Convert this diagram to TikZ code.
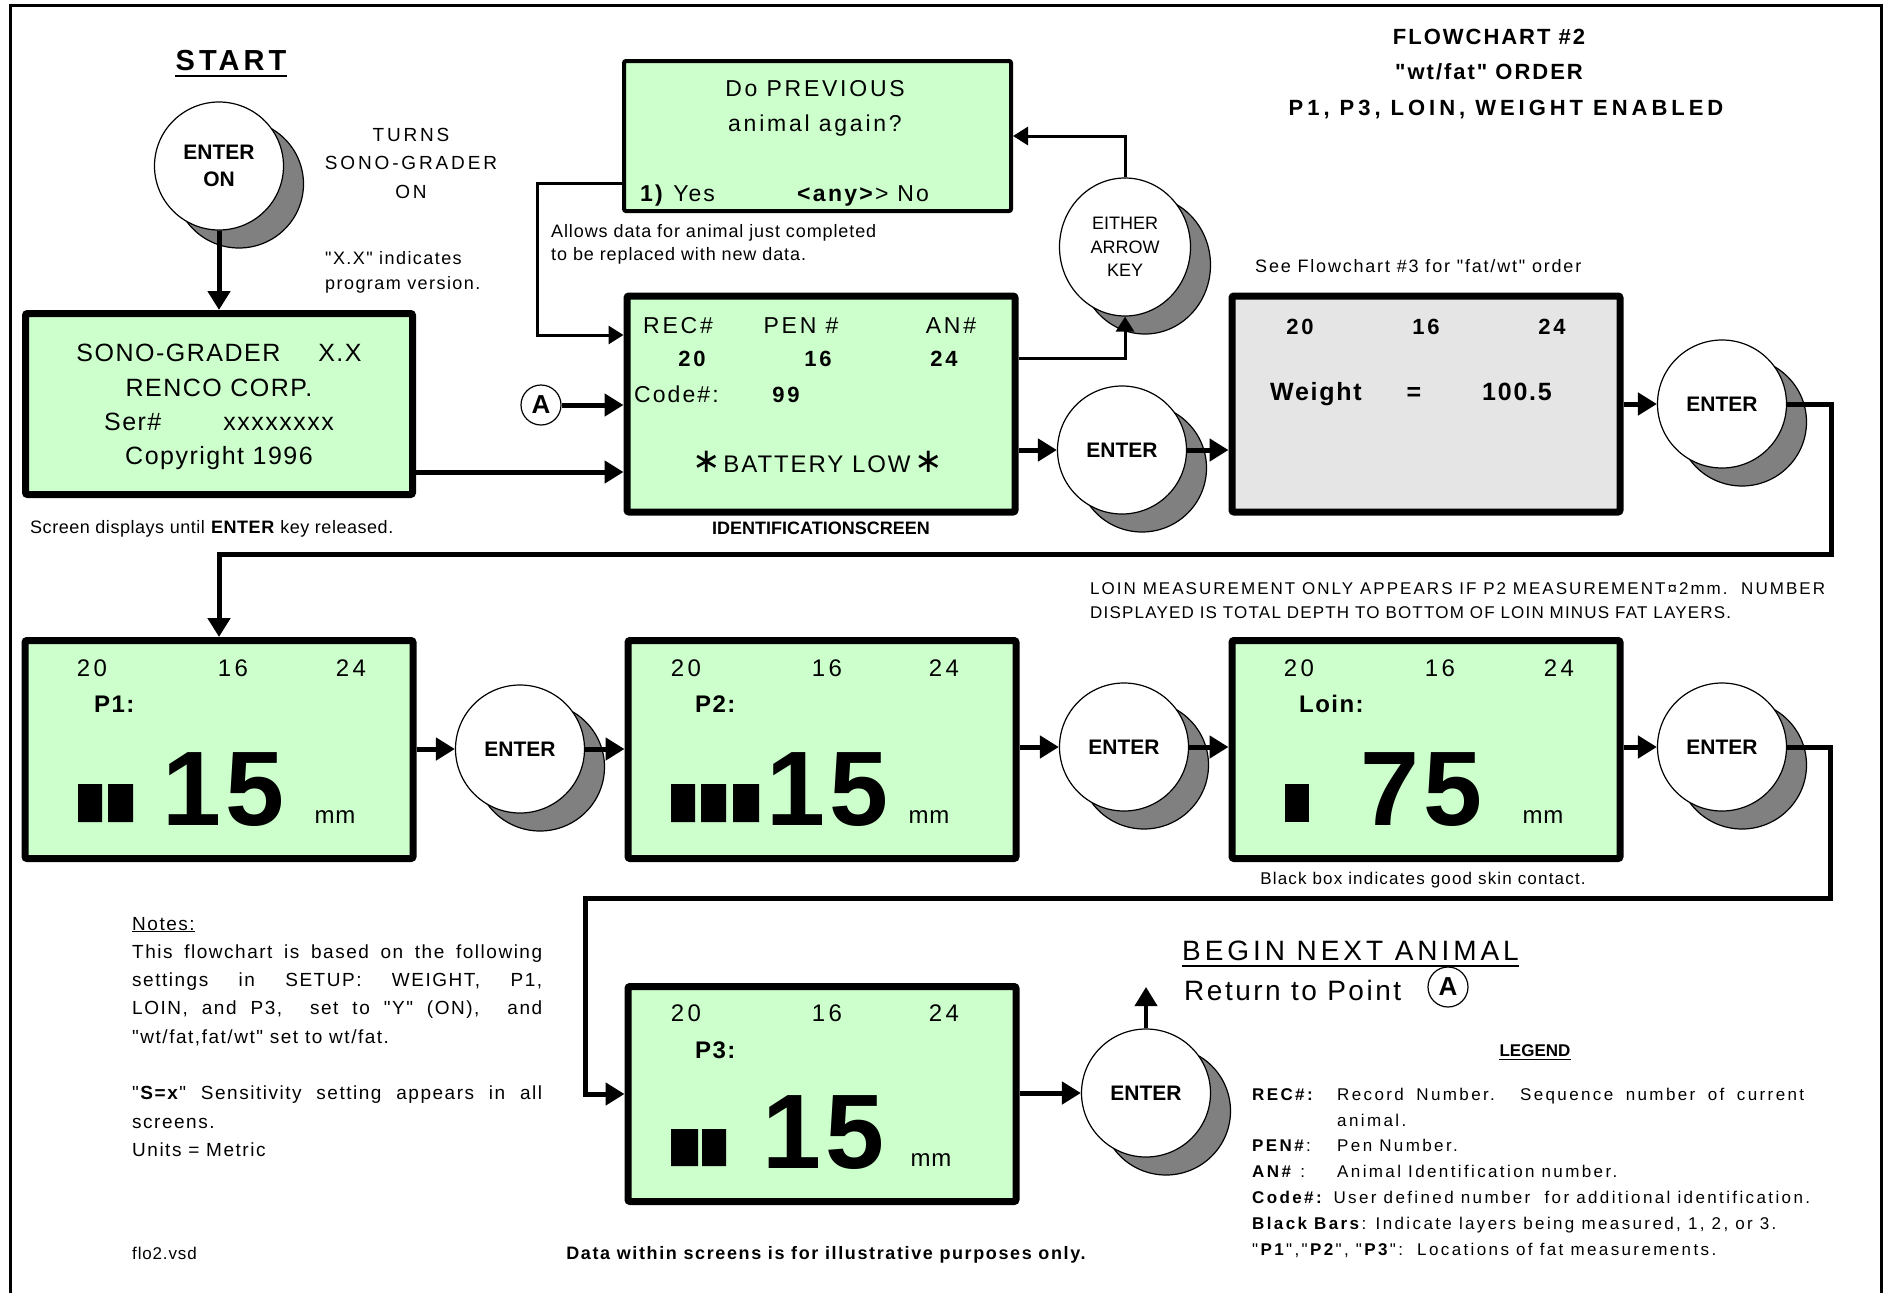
\documentclass[tikz,border=0pt]{standalone}
\usepackage{fontspec}
\setmainfont{Liberation Sans}[Ligatures=TeXOff]
\newfontfamily\symfont{DejaVu Sans}
\usetikzlibrary{positioning,arrows.meta,shapes.geometric}
\definecolor{lcdgreen}{RGB}{204,255,204}
\definecolor{lcdgray}{RGB}{229,229,229}
\definecolor{shadegray}{RGB}{128,128,128}
\newcommand\fsz[3]{\fontsize{#1}{#2}\selectfont\addfontfeature{LetterSpace=#3}}

\begin{document}
\begin{tikzpicture}[x=1pt,y=-1pt,
    screen/.style={draw,line width=7pt,rounded corners=2pt,fill=lcdgreen,
      minimum width=388pt,minimum height=216pt,inner sep=0pt},
    keybtn/.style={ellipse,draw,line width=1.2pt,fill=white,
      minimum width=129pt,minimum height=128pt,inner sep=0pt,align=center,
      font=\bfseries\fsz{21}{27}{0},
      preaction={draw=black,fill=shadegray,line width=1.2pt,
        transform canvas={shift={(20pt,-18pt)}}}},
    pointmark/.style={circle,draw,line width=1.2pt,fill=white,minimum size=40pt,
      inner sep=0pt,font=\bfseries\fsz{26}{30}{0}},
    txt/.style={inner sep=0pt,anchor=base},
    flow/.style={line width=5pt,-{Triangle[length=19pt,width=22pt]}},
    thinflow/.style={line width=3pt,-{Triangle[length=15pt,width=18pt]}}]
  \useasboundingbox (0,0) rectangle (1885,1293);
  \draw[line width=3pt] (10,1293) -- (10,5) -- (1881,5) -- (1881,1293);

  % top left
  \node[txt,font=\bfseries\fsz{29}{34}{14}] (start) at (231,70) {START};
  \draw[line width=1.5pt] ([yshift=-6pt]start.base west) -- ([yshift=-6pt]start.base east);
  \node[keybtn] (enteron) at (219,166) {ENTER\\ON};
  \node[txt,align=center,font=\fsz{19}{28.5}{15}] (turns) at (411,198) {TURNS\\SONO-GRADER\\ON};
  \node[txt,anchor=base west,align=left,font=\fsz{18}{25}{8}] (xxnote) at (325,289)
    {"X.X" indicates\\program version.};
  \node[screen,minimum width=387pt,minimum height=181pt,align=center,font=\fsz{25}{34.3}{6}] (sono) at (219,404)
    {\strut SONO-GRADER\hspace{38pt}X.X\\RENCO CORP.\\Ser\#\hspace{62pt}xxxxxxxx\\Copyright 1996};
  \node[txt,anchor=base west,font=\fsz{18}{22}{3}] (scrnote) at (30,533)
    {Screen displays until \textbf{ENTER} key released.};

  % previous animal
  \node[screen,line width=4pt,minimum width=387pt,minimum height=150pt] (prev) at (817.5,136) {};
  \node[txt,align=center,font=\fsz{23}{35}{12}] (prevq) at (815,131) {Do PREVIOUS\\animal again?};
  \node[txt,anchor=base west,font=\fsz{23}{28}{9}] (yes) at (640,201) {\textbf{1)} Yes};
  \node[txt,anchor=base west,font=\fsz{23}{28}{10}] (no) at (797,201) {\textbf{<any>}> No};
  \node[txt,anchor=base west,align=left,font=\fsz{18}{23}{5}] (allows) at (551,260)
    {Allows data for animal just completed\\to be replaced with new data.};
  \node[keybtn,minimum width=131pt,minimum height=138pt,font=\fsz{18}{23.3}{0}] (either) at (1125,247)
    {EITHER\\ARROW\\KEY};

  % identification screen
  \node[screen] (idscr) at (821,404) {};
  \foreach \lbl/\x [count=\i] in {REC\#/678,PEN \#/801,AN\#/951}
    \node[txt,font=\fsz{23}{28}{12}] (idhd\i) at (\x,333) {\lbl};
  \foreach \val/\x [count=\i] in {20/692,16/818,24/944}
    \node[txt,font=\bfseries\fsz{22}{26}{12}] (idnum\i) at (\x,366) {\val};
  \node[txt,anchor=base west,font=\fsz{23}{28}{9}] (code) at (634,402) {Code\#:};
  \node[txt,font=\bfseries\fsz{22}{26}{12}] (codeval) at (786,402) {99};
  \node[txt,font=\fsz{24}{28}{8}] (battery) at (818,472)
    {{\symfont\fontsize{34}{34}\selectfont ∗}\hspace{2pt}BATTERY LOW\hspace{4pt}{\symfont\fontsize{34}{34}\selectfont ∗}};
  \node[txt,font=\bfseries\fsz{18}{22}{0}] (idlabel) at (821,534) {IDENTIFICATIONSCREEN};
  \node[pointmark] (ptA) at (541,405) {A};

  % title
  \node[txt,align=center,font=\bfseries\fsz{22}{35.5}{9}] (title) at (1506,115)
    {FLOWCHART \#2\rule{34pt}{0pt}\\"wt/fat" ORDER\rule{34pt}{0pt}\\{\addfontfeature{LetterSpace=18}P1, P3, LOIN, WEIGHT ENABLED}};
  \node[txt,anchor=base west,font=\fsz{18}{22}{10}] (seefc) at (1255,272) {See Flowchart \#3 for "fat/wt" order};

  % weight screen
  \node[keybtn] (enter1) at (1122,450) {ENTER};
  \node[screen,fill=lcdgray] (weight) at (1426,404) {};
  \foreach \val/\x [count=\i] in {20/1300,16/1426,24/1552}
    \node[txt,font=\bfseries\fsz{22}{26}{12}] (wtnum\i) at (\x,334) {\val};
  \node[txt,anchor=base west,font=\bfseries\fsz{25}{30}{7}] (wtlbl) at (1270,400) {Weight};
  \node[txt,font=\bfseries\fsz{25}{30}{7}] (wteq) at (1414,400) {=};
  \node[txt,font=\bfseries\fsz{25}{30}{7}] (wtval) at (1517,400) {100.5};
  \node[keybtn] (enter2) at (1722,404) {ENTER};

  % measurement row
  \node[txt,anchor=base west,align=left,font=\fsz{17}{24}{7}] (loinnote) at (1090,618)
    {{\addfontfeature{LetterSpace=12}LOIN MEASUREMENT ONLY APPEARS IF P2 MEASUREMENT¤2mm.\ \ NUMBER}\\DISPLAYED IS TOTAL DEPTH TO BOTTOM OF LOIN MINUS FAT LAYERS.};
  \node[screen,minimum height=218pt] (p1) at (219,749.5) {};
  \foreach \val/\x [count=\i] in {20/92,16/233,24/351}
    \node[txt,font=\fsz{24}{28}{14}] (pahd\i) at (\x,676) {\val};
  \node[txt,anchor=base west,font=\bfseries\fsz{24}{28}{6}] (palbl) at (94,712) {P1:};
  \fill (78,784) rectangle (102,822) (108,784) rectangle (133,822);
  \node[txt,anchor=base west,font=\bfseries\fsz{106}{110}{4}] (paval) at (162,825) {15};
  \node[txt,font=\fsz{24}{28}{4}] (paunit) at (335,823) {mm};
  \node[keybtn] (enter3) at (520,749) {ENTER};

  \node[screen,minimum height=218pt] (p2) at (822,749.5) {};
  \foreach \val/\x [count=\i] in {20/686,16/827,24/944}
    \node[txt,font=\fsz{24}{28}{14}] (pbhd\i) at (\x,676) {\val};
  \node[txt,anchor=base west,font=\bfseries\fsz{24}{28}{6}] (pblbl) at (695,712) {P2:};
  \fill (671,784) rectangle (695,822) (701,784) rectangle (726,822) (733,784) rectangle (759,822);
  \node[txt,anchor=base west,font=\bfseries\fsz{106}{110}{4}] (pbval) at (766,825) {15};
  \node[txt,font=\fsz{24}{28}{4}] (pbunit) at (929,823) {mm};
  \node[keybtn] (enter4) at (1124,747) {ENTER};

  \node[screen,minimum height=218pt] (loin) at (1426,749.5) {};
  \foreach \val/\x [count=\i] in {20/1299,16/1440,24/1559}
    \node[txt,font=\fsz{24}{28}{14}] (lnhd\i) at (\x,676) {\val};
  \node[txt,anchor=base west,font=\bfseries\fsz{24}{28}{6}] (lnlbl) at (1299,712) {Loin:};
  \fill (1285,784) rectangle (1309,822);
  \node[txt,anchor=base west,font=\bfseries\fsz{106}{110}{4}] (lnval) at (1360,825) {75};
  \node[txt,font=\fsz{24}{28}{4}] (lnunit) at (1543,823) {mm};
  \node[txt,font=\fsz{17}{22}{7}] (contact) at (1423,884) {Black box indicates good skin contact.};
  \node[keybtn] (enter5) at (1722,747) {ENTER};

  \node[screen,minimum height=215pt] (p3) at (822,1094) {};
  \foreach \val/\x [count=\i] in {20/686,16/827,24/944}
    \node[txt,font=\fsz{24}{28}{14}] (pchd\i) at (\x,1021) {\val};
  \node[txt,anchor=base west,font=\bfseries\fsz{24}{28}{6}] (pclbl) at (695,1058) {P3:};
  \fill (671,1129) rectangle (698,1166) (702,1129) rectangle (726,1166);
  \node[txt,anchor=base west,font=\bfseries\fsz{106}{110}{4}] (pcval) at (762,1168) {15};
  \node[txt,font=\fsz{24}{28}{4}] (pcunit) at (931,1166) {mm};
  \node[keybtn] (enter6) at (1146,1093) {ENTER};

  % bottom text
  \node[txt,anchor=base west,text width=410pt,align=justify,font=\fsz{19}{28.3}{8}] (notes) at (132,930)
    {\underline{Notes:}\par
     This flowchart is based on the following\linebreak settings in SETUP: WEIGHT, P1,\linebreak
     LOIN, and P3,\ \ set to "Y" (ON),\ \ and\linebreak "wt/fat,fat/wt" set to wt/fat.\par\mbox{}\par
     "\textbf{S=x}" Sensitivity setting appears in all\linebreak screens.\par Units = Metric};
  \node[txt,anchor=base west,font=\fsz{17}{22}{5}] (vsd) at (132,1259) {flo2.vsd};
  \node[txt,font=\bfseries\fsz{18}{22}{9}] (disclaimer) at (826,1259) {Data within screens is for illustrative purposes only.};
  \node[txt,anchor=base west,font=\fsz{28}{34}{14}] (begin) at (1182,960) {BEGIN NEXT ANIMAL};
  \draw[line width=1.5pt] ([yshift=-6pt]begin.base west) -- ([yshift=-6pt]begin.base east);
  \node[txt,anchor=base west,font=\fsz{28}{34}{9}] (retpt) at (1184,1000) {Return to Point};
  \node[pointmark] (ptA2) at (1448,987) {A};
  \node[txt,font=\bfseries\fsz{17}{22}{0}] (legend) at (1535,1056) {LEGEND};
  \draw[line width=1pt] ([yshift=-3pt]legend.base west) -- ([yshift=-3pt]legend.base east);
  \node[txt,anchor=base west,align=left,font=\fsz{17}{25.8}{14}] (legtext) at (1252,1255)
    {\makebox[85pt][l]{\textbf{REC\#:}}\makebox[467pt][s]{Record Number.\ \ Sequence number of current}\\
     \hspace*{85pt}animal.\\
     \makebox[85pt][l]{\textbf{PEN\#}:}Pen Number.\\
     \makebox[85pt][l]{\textbf{AN\#} :}Animal Identification number.\\
     \textbf{Code\#:} User defined number\ \ for additional identification.\\
     \textbf{Black Bars}: Indicate layers being measured, 1, 2, or 3.\\
     "\textbf{P1}","\textbf{P2}", "\textbf{P3}":\ \ Locations of fat measurements.};

  % connectors
  \coordinate (loopa) at (219,554);
  \coordinate (loopb) at (585,898);
  \coordinate (nextanimal) at (1146,987);
  \draw[flow] (enteron) -- (sono);
  \draw[flow] ([yshift=-68pt]sono.east) -- ([yshift=-68pt]idscr.west);
  \draw[flow] (ptA) -- (ptA -| idscr.west);
  \draw[thinflow] ([yshift=-47pt]prev.west) -- ++(-85,0) |- ([yshift=69pt]idscr.west);
  \draw[thinflow] ([yshift=46pt]idscr.east) -| (either.south);
  \draw[thinflow] (either.north) |- (prev.east);
  \draw[flow] (enter1.west -| idscr.east) -- (enter1.west);
  \draw[flow] (enter1.east) -- (enter1.east -| weight.west);
  \draw[flow] (enter2.west -| weight.east) -- (enter2.west);
  \draw[flow] (enter2.east) -- ++(44,0) |- (loopa) -- (p1.north);
  \draw[flow] (enter3.west -| p1.east) -- (enter3.west);
  \draw[flow] (enter3.east) -- (enter3.east -| p2.west);
  \draw[flow] (enter4.west -| p2.east) -- (enter4.west);
  \draw[flow] (enter4.east) -- (enter4.east -| loin.west);
  \draw[flow] (enter5.west -| loin.east) -- (enter5.west);
  \draw[flow] (enter5.east) -- ++(43,0) |- (loopb) |- (p3.west);
  \draw[flow] (enter6.west -| p3.east) -- (enter6.west);
  \draw[flow,line width=4pt] (enter6) -- (nextanimal);
\end{tikzpicture}
\end{document}
